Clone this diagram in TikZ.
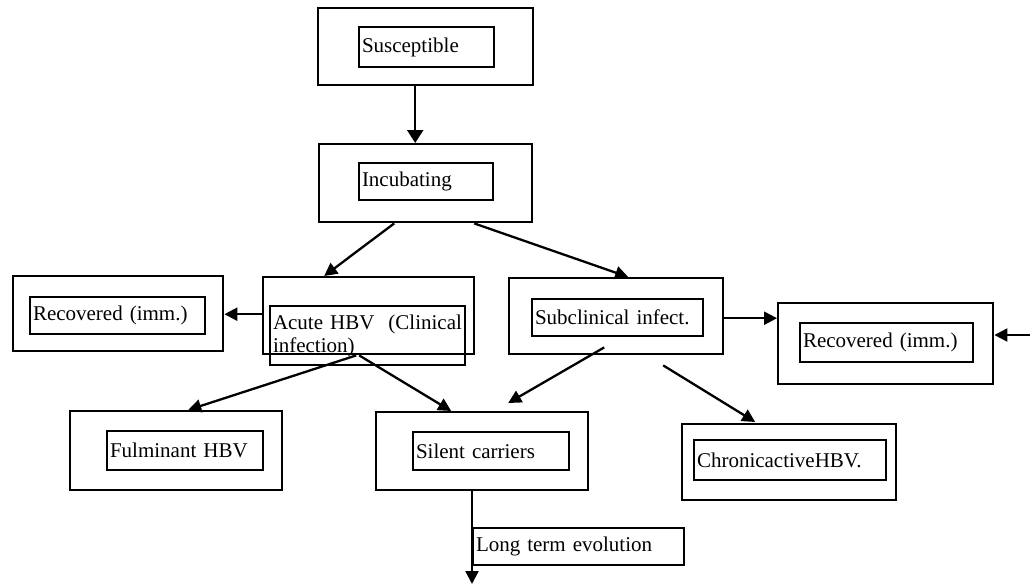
\documentclass[tikz,border=0pt]{standalone}
\usepackage{fontspec}
\setmainfont{Liberation Serif}
\usetikzlibrary{arrows.meta,calc}
\begin{document}
\begin{tikzpicture}[x=1pt,y=-1pt,
  outerbox/.style={draw, line width=2.4pt, inner sep=0pt, anchor=north west},
  innerbox/.style={draw, line width=2pt, anchor=north west, inner xsep=3pt, inner ysep=0pt,
    align=left, font=\fontsize{21}{23}\selectfont},
  conn/.style={line width=2.3pt, -{Triangle[length=13pt,width=13pt]}},
  bigconn/.style={line width=2.3pt, -{Triangle[length=13pt,width=16pt]}}]
\useasboundingbox (0,0) rectangle (1030,584);
% outer boxes
\node[outerbox, minimum width=215pt, minimum height=77pt] (susO) at (317,7) {};
\node[outerbox, minimum width=213pt, minimum height=78pt] (incO) at (318,143) {};
\node[outerbox, minimum width=210pt, minimum height=75pt] (recLO) at (12,275) {};
\node[outerbox, minimum width=211pt, minimum height=77pt] (acuO) at (262,276) {};
\node[outerbox, minimum width=214pt, minimum height=76pt] (subO) at (508,277) {};
\node[outerbox, minimum width=215pt, minimum height=81pt] (recRO) at (777,302) {};
\node[outerbox, minimum width=212pt, minimum height=79pt] (fulO) at (69,410) {};
\node[outerbox, minimum width=212pt, minimum height=78pt] (silO) at (375,411) {};
\node[outerbox, minimum width=214pt, minimum height=76pt] (chrO) at (681,423) {};
% inner boxes
\node[innerbox, text width=129pt, minimum height=40pt] (susI) at (358,26) {Susceptible};
\node[innerbox, text width=128pt, minimum height=37pt] (incI) at (358,162) {Incubating};
\node[innerbox, text width=169pt, minimum height=37pt] (recLI) at (29,296) {Recovered (imm.)};
\node[innerbox, text width=189pt, minimum height=59pt] (acuI) at (269,305) {Acute HBV\ \ (Clinical\\infection)};
\node[innerbox, text width=165pt, minimum height=37pt] (subI) at (531,298) {Subclinical infect.};
\node[innerbox, text width=167pt, minimum height=39pt] (recRI) at (799,322) {Recovered (imm.)};
\node[innerbox, text width=150pt, minimum height=39pt] (fulI) at (106,430) {Fulminant HBV};
\node[innerbox, text width=150pt, minimum height=38pt] (silI) at (412,431) {Silent carriers};
\node[innerbox, text width=186pt, minimum height=40pt] (chrI) at (693,439) {ChronicactiveHBV.};
\node[innerbox, text width=205pt, minimum height=37pt] (lt) at (472,527) {Long term evolution};
% connectors
\coordinate (rin) at (1030,335);
\coordinate (ltend) at (472,584);
\draw[bigconn] ([xshift=-10.5pt]susO.south) -- ([xshift=-10.5pt]incO.north);
\draw[conn] ([xshift=-31.5pt]incO.south) -- ([xshift=-44.5pt]acuO.north);
\draw[conn] ([xshift=48.5pt]incO.south) -- ([xshift=12pt]subO.north);
\draw[conn] ([yshift=1.5pt]acuO.west) -- ([yshift=1.5pt]acuO.west -| recLO.east);
\draw[conn] ([yshift=-2pt]subO.east) -- ([yshift=-2pt]subO.east -| recRO.west);
\draw[conn] (rin) -- (rin -| recRO.east);
\draw[conn] ([xshift=-12.5pt]acuO.south) -- ([xshift=12pt]fulO.north);
\draw[conn] ([xshift=-9.5pt]acuO.south) -- ([xshift=-31pt]silO.north);
\draw[conn] ([xshift=-12pt,yshift=8pt]subO.south) -- ([xshift=26pt,yshift=8pt]silO.north);
\draw[conn] ([xshift=47pt,yshift=-10pt]subO.south) -- ([xshift=-34pt,yshift=1pt]chrO.north);
\draw[conn] (ltend |- silO.south) -- (ltend);
\end{tikzpicture}
\end{document}
